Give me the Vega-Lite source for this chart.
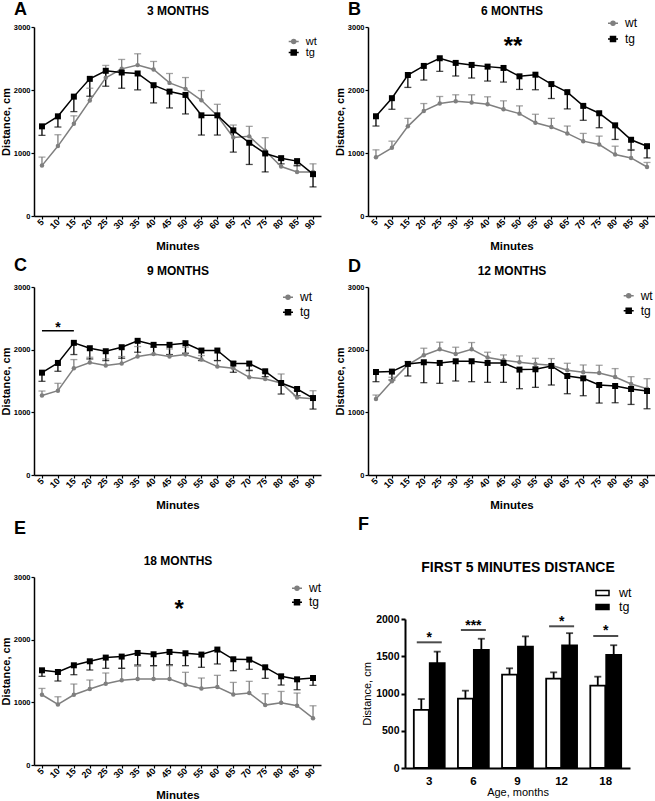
{
"$schema":"https://vega.github.io/schema/vega-lite/v6.json",
"background":"white",
"padding":{"left":0,"top":1,"right":0,"bottom":0},
"columns":2,
"spacing":{"row":71,"column":47},
"bounds":"flush",
"resolve":{"scale":{"color":"independent","fill":"independent"},"legend":{"color":"independent","fill":"independent"}},
"concat":[
{
 "width":287,"height":189,
 "title":{"text":"A","anchor":"start","frame":"group","dx":-20,"offset":-15,"fontSize":18,"fontWeight":"bold"},
 "data":{"name":"cA"},
 "layer":[
  {"encoding":{
    "x":{"field":"m","type":"quantitative","scale":{"domain":[2.5,92.5],"nice":false,"zero":false},"axis":{"domain":true,"values":[5,10,15,20,25,30,35,40,45,50,55,60,65,70,75,80,85,90],"labelAngle":-45,"labelAlign":"right","labelBaseline":"middle","labelFontSize":9,"labelFontWeight":"bold","labelPadding":1,"tickSize":3,"labelOverlap":false,"labelFlush":false,"title":"Minutes","titleFontSize":11.5,"titleFontWeight":"bold","titlePadding":10}},
    "y":{"field":"v","type":"quantitative","scale":{"domain":[0,3000],"nice":false},"axis":{"domain":true,"format":"d","values":[0,1000,2000,3000],"labelFontSize":7.5,"labelFontWeight":"bold","tickSize":3,"labelPadding":1,"title":"Distance, cm","titleFontSize":11,"titleFontWeight":"bold","titlePadding":2}},
    "color":{"field":"g","type":"nominal","scale":{"domain":["wt","tg"],"range":["#7f7f7f","#000000"]},"legend":{"title":null,"orient":"none","legendX":253.7,"legendY":8.5,"labelFontSize":11,"rowPadding":0,"padding":0,"symbolSize":100,"symbolStrokeWidth":1.5,"labelOffset":6,"encode":{"symbols":{"update":{"shape":{"signal":"datum.value === 'wt' ? 'M-1,0L1,0M-0.4,0A0.4,0.4,0,1,1,0.4,0A0.4,0.4,0,1,1,-0.4,0Z' : 'M-1,0L1,0M-0.5,-0.5L0.5,-0.5L0.5,0.5L-0.5,0.5Z'"},"fill":{"signal":"datum.value === 'wt' ? '#7f7f7f' : '#000000'"},"stroke":{"signal":"datum.value === 'wt' ? '#7f7f7f' : '#000000'"},"strokeWidth":{"value":1.5},"opacity":{"value":1}}}}}}},
   "layer":[
    {"mark":{"type":"rule","strokeWidth":1.3},"encoding":{"y2":{"field":"e"}}},
    {"mark":{"type":"tick","orient":"horizontal","size":7,"thickness":1.3},"encoding":{"y":{"field":"e","type":"quantitative","scale":{"domain":[0,3000],"nice":false},"axis":{"domain":true,"format":"d","values":[0,1000,2000,3000],"labelFontSize":7.5,"labelFontWeight":"bold","tickSize":3,"labelPadding":1,"title":"Distance, cm","titleFontSize":11,"titleFontWeight":"bold","titlePadding":2}}}},
    {"mark":{"type":"line","strokeWidth":1.5}},
    {"transform":[{"filter":"datum.g === 'wt'"}],"mark":{"type":"point","filled":true,"shape":"circle","size":20,"opacity":1}}
   ]},
  {"transform":[{"filter":"datum.g === 'tg'"}],"mark":{"type":"point","filled":true,"shape":"square","size":36,"opacity":1},
   "encoding":{
    "x":{"field":"m","type":"quantitative","scale":{"domain":[2.5,92.5],"nice":false,"zero":false},"axis":{"orient":"top","labels":false,"ticks":false,"domain":false,"title":"3 MONTHS","titleFontSize":12,"titleFontWeight":"bold","titlePadding":10}},
    "y":{"field":"v","type":"quantitative","scale":{"domain":[0,3000],"nice":false},"axis":{"domain":true,"format":"d","values":[0,1000,2000,3000],"labelFontSize":7.5,"labelFontWeight":"bold","tickSize":3,"labelPadding":1,"title":"Distance, cm","titleFontSize":11,"titleFontWeight":"bold","titlePadding":2}},
    "color":{"field":"g","type":"nominal","scale":{"domain":["wt","tg"],"range":["#7f7f7f","#000000"]},"legend":{"title":null,"orient":"none","legendX":253.7,"legendY":8.5,"labelFontSize":11,"rowPadding":0,"padding":0,"symbolSize":100,"symbolStrokeWidth":1.5,"labelOffset":6,"encode":{"symbols":{"update":{"shape":{"signal":"datum.value === 'wt' ? 'M-1,0L1,0M-0.4,0A0.4,0.4,0,1,1,0.4,0A0.4,0.4,0,1,1,-0.4,0Z' : 'M-1,0L1,0M-0.5,-0.5L0.5,-0.5L0.5,0.5L-0.5,0.5Z'"},"fill":{"signal":"datum.value === 'wt' ? '#7f7f7f' : '#000000'"},"stroke":{"signal":"datum.value === 'wt' ? '#7f7f7f' : '#000000'"},"strokeWidth":{"value":1.5},"opacity":{"value":1}}}}}}}}
 ],
 "resolve":{"axis":{"x":"independent"}}
},
{
 "width":287,"height":189,
 "title":{"text":"B","anchor":"start","frame":"group","dx":-20,"offset":-15,"fontSize":18,"fontWeight":"bold"},
 "data":{"name":"cB"},
 "layer":[
  {"encoding":{
    "x":{"field":"m","type":"quantitative","scale":{"domain":[2.5,92.5],"nice":false,"zero":false},"axis":{"domain":true,"values":[5,10,15,20,25,30,35,40,45,50,55,60,65,70,75,80,85,90],"labelAngle":-45,"labelAlign":"right","labelBaseline":"middle","labelFontSize":9,"labelFontWeight":"bold","labelPadding":1,"tickSize":3,"labelOverlap":false,"labelFlush":false,"title":"Minutes","titleFontSize":11.5,"titleFontWeight":"bold","titlePadding":10}},
    "y":{"field":"v","type":"quantitative","scale":{"domain":[0,3000],"nice":false},"axis":{"domain":true,"format":"d","values":[0,1000,2000,3000],"labelFontSize":7.5,"labelFontWeight":"bold","tickSize":3,"labelPadding":1,"title":"Distance, cm","titleFontSize":11,"titleFontWeight":"bold","titlePadding":2}},
    "color":{"field":"g","type":"nominal","scale":{"domain":["wt","tg"],"range":["#7f7f7f","#000000"]},"legend":{"title":null,"orient":"none","legendX":239,"legendY":-9.7,"labelFontSize":12,"rowPadding":3.7,"padding":0,"symbolSize":100,"symbolStrokeWidth":1.5,"labelOffset":6,"encode":{"symbols":{"update":{"shape":{"signal":"datum.value === 'wt' ? 'M-1,0L1,0M-0.4,0A0.4,0.4,0,1,1,0.4,0A0.4,0.4,0,1,1,-0.4,0Z' : 'M-1,0L1,0M-0.5,-0.5L0.5,-0.5L0.5,0.5L-0.5,0.5Z'"},"fill":{"signal":"datum.value === 'wt' ? '#7f7f7f' : '#000000'"},"stroke":{"signal":"datum.value === 'wt' ? '#7f7f7f' : '#000000'"},"strokeWidth":{"value":1.5},"opacity":{"value":1}}}}}}},
   "layer":[
    {"mark":{"type":"rule","strokeWidth":1.3},"encoding":{"y2":{"field":"e"}}},
    {"mark":{"type":"tick","orient":"horizontal","size":7,"thickness":1.3},"encoding":{"y":{"field":"e","type":"quantitative","scale":{"domain":[0,3000],"nice":false},"axis":{"domain":true,"format":"d","values":[0,1000,2000,3000],"labelFontSize":7.5,"labelFontWeight":"bold","tickSize":3,"labelPadding":1,"title":"Distance, cm","titleFontSize":11,"titleFontWeight":"bold","titlePadding":2}}}},
    {"mark":{"type":"line","strokeWidth":1.5}},
    {"transform":[{"filter":"datum.g === 'wt'"}],"mark":{"type":"point","filled":true,"shape":"circle","size":20,"opacity":1}},
    {"data":{"values":[{"m":48,"v":2780,"t":"**"}]},"mark":{"type":"text","fontSize":24,"fontWeight":"bold","baseline":"middle","dy":6.5},"encoding":{"text":{"field":"t"},"color":{"value":"#000000"}}}
   ]},
  {"transform":[{"filter":"datum.g === 'tg'"}],"mark":{"type":"point","filled":true,"shape":"square","size":36,"opacity":1},
   "encoding":{
    "x":{"field":"m","type":"quantitative","scale":{"domain":[2.5,92.5],"nice":false,"zero":false},"axis":{"orient":"top","labels":false,"ticks":false,"domain":false,"title":"6 MONTHS","titleFontSize":12,"titleFontWeight":"bold","titlePadding":10}},
    "y":{"field":"v","type":"quantitative","scale":{"domain":[0,3000],"nice":false},"axis":{"domain":true,"format":"d","values":[0,1000,2000,3000],"labelFontSize":7.5,"labelFontWeight":"bold","tickSize":3,"labelPadding":1,"title":"Distance, cm","titleFontSize":11,"titleFontWeight":"bold","titlePadding":2}},
    "color":{"field":"g","type":"nominal","scale":{"domain":["wt","tg"],"range":["#7f7f7f","#000000"]},"legend":{"title":null,"orient":"none","legendX":239,"legendY":-9.7,"labelFontSize":12,"rowPadding":3.7,"padding":0,"symbolSize":100,"symbolStrokeWidth":1.5,"labelOffset":6,"encode":{"symbols":{"update":{"shape":{"signal":"datum.value === 'wt' ? 'M-1,0L1,0M-0.4,0A0.4,0.4,0,1,1,0.4,0A0.4,0.4,0,1,1,-0.4,0Z' : 'M-1,0L1,0M-0.5,-0.5L0.5,-0.5L0.5,0.5L-0.5,0.5Z'"},"fill":{"signal":"datum.value === 'wt' ? '#7f7f7f' : '#000000'"},"stroke":{"signal":"datum.value === 'wt' ? '#7f7f7f' : '#000000'"},"strokeWidth":{"value":1.5},"opacity":{"value":1}}}}}}}}
 ],
 "resolve":{"axis":{"x":"independent"}}
},
{
 "width":287,"height":188,
 "title":{"text":"C","anchor":"start","frame":"group","dx":-20,"offset":-11,"fontSize":18,"fontWeight":"bold"},
 "data":{"name":"cC"},
 "layer":[
  {"encoding":{
    "x":{"field":"m","type":"quantitative","scale":{"domain":[2.5,92.5],"nice":false,"zero":false},"axis":{"domain":true,"values":[5,10,15,20,25,30,35,40,45,50,55,60,65,70,75,80,85,90],"labelAngle":-45,"labelAlign":"right","labelBaseline":"middle","labelFontSize":9,"labelFontWeight":"bold","labelPadding":1,"tickSize":3,"labelOverlap":false,"labelFlush":false,"title":"Minutes","titleFontSize":11.5,"titleFontWeight":"bold","titlePadding":10}},
    "y":{"field":"v","type":"quantitative","scale":{"domain":[0,3000],"nice":false},"axis":{"domain":true,"format":"d","values":[0,1000,2000,3000],"labelFontSize":7.5,"labelFontWeight":"bold","tickSize":3,"labelPadding":1,"title":"Distance, cm","titleFontSize":11,"titleFontWeight":"bold","titlePadding":2}},
    "color":{"field":"g","type":"nominal","scale":{"domain":["wt","tg"],"range":["#7f7f7f","#000000"]},"legend":{"title":null,"orient":"none","legendX":248,"legendY":4.3,"labelFontSize":12,"rowPadding":3,"padding":0,"symbolSize":100,"symbolStrokeWidth":1.5,"labelOffset":6,"encode":{"symbols":{"update":{"shape":{"signal":"datum.value === 'wt' ? 'M-1,0L1,0M-0.4,0A0.4,0.4,0,1,1,0.4,0A0.4,0.4,0,1,1,-0.4,0Z' : 'M-1,0L1,0M-0.5,-0.5L0.5,-0.5L0.5,0.5L-0.5,0.5Z'"},"fill":{"signal":"datum.value === 'wt' ? '#7f7f7f' : '#000000'"},"stroke":{"signal":"datum.value === 'wt' ? '#7f7f7f' : '#000000'"},"strokeWidth":{"value":1.5},"opacity":{"value":1}}}}}}},
   "layer":[
    {"mark":{"type":"rule","strokeWidth":1.3},"encoding":{"y2":{"field":"e"}}},
    {"mark":{"type":"tick","orient":"horizontal","size":7,"thickness":1.3},"encoding":{"y":{"field":"e","type":"quantitative","scale":{"domain":[0,3000],"nice":false},"axis":{"domain":true,"format":"d","values":[0,1000,2000,3000],"labelFontSize":7.5,"labelFontWeight":"bold","tickSize":3,"labelPadding":1,"title":"Distance, cm","titleFontSize":11,"titleFontWeight":"bold","titlePadding":2}}}},
    {"mark":{"type":"line","strokeWidth":1.5}},
    {"transform":[{"filter":"datum.g === 'wt'"}],"mark":{"type":"point","filled":true,"shape":"circle","size":20,"opacity":1}},
    {"data":{"values":[{"m":5,"m2":15,"v":2303}]},"mark":{"type":"rule","strokeWidth":1.5},"encoding":{"x2":{"field":"m2"},"color":{"value":"#000000"}}},
    {"data":{"values":[{"m":10,"v":2303,"t":"*"}]},"mark":{"type":"text","fontSize":14,"fontWeight":"bold","baseline":"middle","dy":-3},"encoding":{"text":{"field":"t"},"color":{"value":"#000000"}}}
   ]},
  {"transform":[{"filter":"datum.g === 'tg'"}],"mark":{"type":"point","filled":true,"shape":"square","size":36,"opacity":1},
   "encoding":{
    "x":{"field":"m","type":"quantitative","scale":{"domain":[2.5,92.5],"nice":false,"zero":false},"axis":{"orient":"top","labels":false,"ticks":false,"domain":false,"title":"9 MONTHS","titleFontSize":12,"titleFontWeight":"bold","titlePadding":10}},
    "y":{"field":"v","type":"quantitative","scale":{"domain":[0,3000],"nice":false},"axis":{"domain":true,"format":"d","values":[0,1000,2000,3000],"labelFontSize":7.5,"labelFontWeight":"bold","tickSize":3,"labelPadding":1,"title":"Distance, cm","titleFontSize":11,"titleFontWeight":"bold","titlePadding":2}},
    "color":{"field":"g","type":"nominal","scale":{"domain":["wt","tg"],"range":["#7f7f7f","#000000"]},"legend":{"title":null,"orient":"none","legendX":248,"legendY":4.3,"labelFontSize":12,"rowPadding":3,"padding":0,"symbolSize":100,"symbolStrokeWidth":1.5,"labelOffset":6,"encode":{"symbols":{"update":{"shape":{"signal":"datum.value === 'wt' ? 'M-1,0L1,0M-0.4,0A0.4,0.4,0,1,1,0.4,0A0.4,0.4,0,1,1,-0.4,0Z' : 'M-1,0L1,0M-0.5,-0.5L0.5,-0.5L0.5,0.5L-0.5,0.5Z'"},"fill":{"signal":"datum.value === 'wt' ? '#7f7f7f' : '#000000'"},"stroke":{"signal":"datum.value === 'wt' ? '#7f7f7f' : '#000000'"},"strokeWidth":{"value":1.5},"opacity":{"value":1}}}}}}}}
 ],
 "resolve":{"axis":{"x":"independent"}}
},
{
 "width":287,"height":188,
 "title":{"text":"D","anchor":"start","frame":"group","dx":-20,"offset":-12,"fontSize":18,"fontWeight":"bold"},
 "data":{"name":"cD"},
 "layer":[
  {"encoding":{
    "x":{"field":"m","type":"quantitative","scale":{"domain":[2.5,92.5],"nice":false,"zero":false},"axis":{"domain":true,"values":[5,10,15,20,25,30,35,40,45,50,55,60,65,70,75,80,85,90],"labelAngle":-45,"labelAlign":"right","labelBaseline":"middle","labelFontSize":9,"labelFontWeight":"bold","labelPadding":1,"tickSize":3,"labelOverlap":false,"labelFlush":false,"title":"Minutes","titleFontSize":11.5,"titleFontWeight":"bold","titlePadding":10}},
    "y":{"field":"v","type":"quantitative","scale":{"domain":[0,3000],"nice":false},"axis":{"domain":true,"format":"d","values":[0,1000,2000,3000],"labelFontSize":7.5,"labelFontWeight":"bold","tickSize":3,"labelPadding":1,"title":"Distance, cm","titleFontSize":11,"titleFontWeight":"bold","titlePadding":2}},
    "color":{"field":"g","type":"nominal","scale":{"domain":["wt","tg"],"range":["#7f7f7f","#000000"]},"legend":{"title":null,"orient":"none","legendX":254.7,"legendY":2.7,"labelFontSize":12,"rowPadding":3,"padding":0,"symbolSize":100,"symbolStrokeWidth":1.5,"labelOffset":6,"encode":{"symbols":{"update":{"shape":{"signal":"datum.value === 'wt' ? 'M-1,0L1,0M-0.4,0A0.4,0.4,0,1,1,0.4,0A0.4,0.4,0,1,1,-0.4,0Z' : 'M-1,0L1,0M-0.5,-0.5L0.5,-0.5L0.5,0.5L-0.5,0.5Z'"},"fill":{"signal":"datum.value === 'wt' ? '#7f7f7f' : '#000000'"},"stroke":{"signal":"datum.value === 'wt' ? '#7f7f7f' : '#000000'"},"strokeWidth":{"value":1.5},"opacity":{"value":1}}}}}}},
   "layer":[
    {"mark":{"type":"rule","strokeWidth":1.3},"encoding":{"y2":{"field":"e"}}},
    {"mark":{"type":"tick","orient":"horizontal","size":7,"thickness":1.3},"encoding":{"y":{"field":"e","type":"quantitative","scale":{"domain":[0,3000],"nice":false},"axis":{"domain":true,"format":"d","values":[0,1000,2000,3000],"labelFontSize":7.5,"labelFontWeight":"bold","tickSize":3,"labelPadding":1,"title":"Distance, cm","titleFontSize":11,"titleFontWeight":"bold","titlePadding":2}}}},
    {"mark":{"type":"line","strokeWidth":1.5}},
    {"transform":[{"filter":"datum.g === 'wt'"}],"mark":{"type":"point","filled":true,"shape":"circle","size":20,"opacity":1}}
   ]},
  {"transform":[{"filter":"datum.g === 'tg'"}],"mark":{"type":"point","filled":true,"shape":"square","size":36,"opacity":1},
   "encoding":{
    "x":{"field":"m","type":"quantitative","scale":{"domain":[2.5,92.5],"nice":false,"zero":false},"axis":{"orient":"top","labels":false,"ticks":false,"domain":false,"title":"12 MONTHS","titleFontSize":12,"titleFontWeight":"bold","titlePadding":10}},
    "y":{"field":"v","type":"quantitative","scale":{"domain":[0,3000],"nice":false},"axis":{"domain":true,"format":"d","values":[0,1000,2000,3000],"labelFontSize":7.5,"labelFontWeight":"bold","tickSize":3,"labelPadding":1,"title":"Distance, cm","titleFontSize":11,"titleFontWeight":"bold","titlePadding":2}},
    "color":{"field":"g","type":"nominal","scale":{"domain":["wt","tg"],"range":["#7f7f7f","#000000"]},"legend":{"title":null,"orient":"none","legendX":254.7,"legendY":2.7,"labelFontSize":12,"rowPadding":3,"padding":0,"symbolSize":100,"symbolStrokeWidth":1.5,"labelOffset":6,"encode":{"symbols":{"update":{"shape":{"signal":"datum.value === 'wt' ? 'M-1,0L1,0M-0.4,0A0.4,0.4,0,1,1,0.4,0A0.4,0.4,0,1,1,-0.4,0Z' : 'M-1,0L1,0M-0.5,-0.5L0.5,-0.5L0.5,0.5L-0.5,0.5Z'"},"fill":{"signal":"datum.value === 'wt' ? '#7f7f7f' : '#000000'"},"stroke":{"signal":"datum.value === 'wt' ? '#7f7f7f' : '#000000'"},"strokeWidth":{"value":1.5},"opacity":{"value":1}}}}}}}}
 ],
 "resolve":{"axis":{"x":"independent"}}
},
{
 "width":287,"height":219,
 "title":{"text":"E","anchor":"start","frame":"group","dx":-20,"offset":8,"fontSize":18,"fontWeight":"bold"},
 "data":{"name":"cE"},
 "layer":[
  {"encoding":{
    "x":{"field":"m","type":"quantitative","scale":{"domain":[2.5,92.5],"nice":false,"zero":false},"axis":{"domain":true,"values":[5,10,15,20,25,30,35,40,45,50,55,60,65,70,75,80,85,90],"labelAngle":-45,"labelAlign":"right","labelBaseline":"middle","labelFontSize":9,"labelFontWeight":"bold","labelPadding":1,"tickSize":3,"labelOverlap":false,"labelFlush":false,"title":"Minutes","titleFontSize":11.5,"titleFontWeight":"bold","titlePadding":10}},
    "y":{"field":"v","type":"quantitative","scale":{"domain":[0,3000],"nice":false,"range":[219,31]},"axis":{"domain":true,"format":"d","values":[0,1000,2000,3000],"labelFontSize":7.5,"labelFontWeight":"bold","tickSize":3,"labelPadding":1,"title":"Distance, cm","titleFontSize":11,"titleFontWeight":"bold","titlePadding":2}},
    "color":{"field":"g","type":"nominal","scale":{"domain":["wt","tg"],"range":["#7f7f7f","#000000"]},"legend":{"title":null,"orient":"none","legendX":257,"legendY":36.3,"labelFontSize":12,"rowPadding":2,"padding":0,"symbolSize":100,"symbolStrokeWidth":1.5,"labelOffset":6,"encode":{"symbols":{"update":{"shape":{"signal":"datum.value === 'wt' ? 'M-1,0L1,0M-0.4,0A0.4,0.4,0,1,1,0.4,0A0.4,0.4,0,1,1,-0.4,0Z' : 'M-1,0L1,0M-0.5,-0.5L0.5,-0.5L0.5,0.5L-0.5,0.5Z'"},"fill":{"signal":"datum.value === 'wt' ? '#7f7f7f' : '#000000'"},"stroke":{"signal":"datum.value === 'wt' ? '#7f7f7f' : '#000000'"},"strokeWidth":{"value":1.5},"opacity":{"value":1}}}}}}},
   "layer":[
    {"mark":{"type":"rule","strokeWidth":1.3},"encoding":{"y2":{"field":"e"}}},
    {"mark":{"type":"tick","orient":"horizontal","size":7,"thickness":1.3},"encoding":{"y":{"field":"e","type":"quantitative","scale":{"domain":[0,3000],"nice":false,"range":[219,31]},"axis":{"domain":true,"format":"d","values":[0,1000,2000,3000],"labelFontSize":7.5,"labelFontWeight":"bold","tickSize":3,"labelPadding":1,"title":"Distance, cm","titleFontSize":11,"titleFontWeight":"bold","titlePadding":2}}}},
    {"mark":{"type":"line","strokeWidth":1.5}},
    {"transform":[{"filter":"datum.g === 'wt'"}],"mark":{"type":"point","filled":true,"shape":"circle","size":20,"opacity":1}},
    {"data":{"values":[{"m":48,"v":2585,"t":"*"}]},"mark":{"type":"text","fontSize":24,"fontWeight":"bold","baseline":"middle","dy":6.5},"encoding":{"text":{"field":"t"},"color":{"value":"#000000"}}}
   ]},
  {"transform":[{"filter":"datum.g === 'tg'"}],"mark":{"type":"point","filled":true,"shape":"square","size":36,"opacity":1},
   "encoding":{
    "x":{"field":"m","type":"quantitative","scale":{"domain":[2.5,92.5],"nice":false,"zero":false},"axis":{"orient":"top","offset":-31,"labels":false,"ticks":false,"domain":false,"title":"18 MONTHS","titleFontSize":12,"titleFontWeight":"bold","titlePadding":10}},
    "y":{"field":"v","type":"quantitative","scale":{"domain":[0,3000],"nice":false,"range":[219,31]},"axis":{"domain":true,"format":"d","values":[0,1000,2000,3000],"labelFontSize":7.5,"labelFontWeight":"bold","tickSize":3,"labelPadding":1,"title":"Distance, cm","titleFontSize":11,"titleFontWeight":"bold","titlePadding":2}},
    "color":{"field":"g","type":"nominal","scale":{"domain":["wt","tg"],"range":["#7f7f7f","#000000"]},"legend":{"title":null,"orient":"none","legendX":257,"legendY":36.3,"labelFontSize":12,"rowPadding":2,"padding":0,"symbolSize":100,"symbolStrokeWidth":1.5,"labelOffset":6,"encode":{"symbols":{"update":{"shape":{"signal":"datum.value === 'wt' ? 'M-1,0L1,0M-0.4,0A0.4,0.4,0,1,1,0.4,0A0.4,0.4,0,1,1,-0.4,0Z' : 'M-1,0L1,0M-0.5,-0.5L0.5,-0.5L0.5,0.5L-0.5,0.5Z'"},"fill":{"signal":"datum.value === 'wt' ? '#7f7f7f' : '#000000'"},"stroke":{"signal":"datum.value === 'wt' ? '#7f7f7f' : '#000000'"},"strokeWidth":{"value":1.5},"opacity":{"value":1}}}}}}}}
 ],
 "resolve":{"axis":{"x":"independent"}}
},
{
 "width":262,"height":222,
 "title":{"text":"F","anchor":"start","frame":"group","dx":-10,"offset":12,"fontSize":18,"fontWeight":"bold"},
 "data":{"name":"bars"},
 "layer":[
  {"encoding":{
    "x":{"field":"age","type":"ordinal","scale":{"range":[37,262],"paddingInner":0.3,"paddingOuter":0.2},"axis":{"domain":true,"labelAngle":0,"labelFontSize":11.5,"labelFontWeight":"bold","ticks":false,"labelPadding":7,"domainWidth":2,"title":"Age, months","titleFontSize":11,"titleFontWeight":"normal","titlePadding":0}},
    "y":{"field":"v","type":"quantitative","scale":{"domain":[0,2000],"nice":false,"range":[222,73]},"axis":{"domain":true,"format":"d","values":[0,500,1000,1500,2000],"offset":-37,"labelFontSize":10.5,"labelFontWeight":"bold","tickSize":4,"tickWidth":2,"domainWidth":2,"labelPadding":2,"title":"Distance, cm","titleFontSize":11,"titleFontWeight":"normal","titlePadding":3}}},
   "layer":[
    {"mark":{"type":"bar","stroke":"#000000","strokeWidth":1.8},"encoding":{
      "xOffset":{"field":"g","type":"nominal","scale":{"domain":["wt","tg"],"paddingInner":0.06}},
      "fill":{"field":"g","type":"nominal","scale":{"domain":["wt","tg"],"range":["#ffffff","#000000"]},"legend":{"title":null,"orient":"none","legendX":227,"legendY":39.5,"labelFontSize":12.5,"rowPadding":0,"padding":0,"symbolType":"M-1,-0.4L1,-0.4L1,0.4L-1,0.4Z","symbolSize":169,"symbolStrokeColor":"#000000","symbolStrokeWidth":1.5,"labelOffset":9}}}},
    {"mark":{"type":"rule","strokeWidth":1.8,"color":"#000000"},"encoding":{
      "xOffset":{"field":"g","type":"nominal","scale":{"domain":["wt","tg"],"paddingInner":0.06}},
      "y2":{"field":"e"}}},
    {"mark":{"type":"tick","orient":"horizontal","size":7,"thickness":1.8,"color":"#000000"},"encoding":{
      "xOffset":{"field":"g","type":"nominal","scale":{"domain":["wt","tg"],"paddingInner":0.06}},
      "y":{"field":"e","type":"quantitative","scale":{"domain":[0,2000],"nice":false,"range":[222,73]},"axis":{"domain":true,"format":"d","values":[0,500,1000,1500,2000],"offset":-37,"labelFontSize":10.5,"labelFontWeight":"bold","tickSize":4,"tickWidth":2,"domainWidth":2,"labelPadding":2,"title":"Distance, cm","titleFontSize":11,"titleFontWeight":"normal","titlePadding":3}}}},
    {"data":{"name":"sig"},"mark":{"type":"text","fontSize":14,"fontWeight":"bold","baseline":"middle","dy":-4.5,"color":"#000000"},"encoding":{
      "y":{"field":"s","type":"quantitative","scale":{"domain":[0,2000],"nice":false,"range":[222,73]},"axis":{"domain":true,"format":"d","values":[0,500,1000,1500,2000],"offset":-37,"labelFontSize":10.5,"labelFontWeight":"bold","tickSize":4,"tickWidth":2,"domainWidth":2,"labelPadding":2,"title":"Distance, cm","titleFontSize":11,"titleFontWeight":"normal","titlePadding":3}},
      "text":{"field":"t"}}}
   ]},
  {"data":{"name":"sig"},"mark":{"type":"tick","orient":"horizontal","size":25,"thickness":2,"color":"#000000"},"encoding":{
    "x":{"field":"age","type":"ordinal","scale":{"range":[37,262],"paddingInner":0.3,"paddingOuter":0.2},"axis":{"orient":"top","offset":-28,"labels":false,"ticks":false,"domain":false,"title":"FIRST 5 MINUTES DISTANCE","titleFontSize":14,"titleFontWeight":"bold","titlePadding":0}},
    "y":{"field":"s","type":"quantitative","scale":{"domain":[0,2000],"nice":false,"range":[222,73]},"axis":{"domain":true,"format":"d","values":[0,500,1000,1500,2000],"offset":-37,"labelFontSize":10.5,"labelFontWeight":"bold","tickSize":4,"tickWidth":2,"domainWidth":2,"labelPadding":2,"title":"Distance, cm","titleFontSize":11,"titleFontWeight":"normal","titlePadding":3}}}}
 ],
 "resolve":{"axis":{"x":"independent"}}
}
],
"datasets":{
 "cA":[
  {"m":5,"g":"wt","v":800,"e":935},{"m":10,"g":"wt","v":1110,"e":1290},{"m":15,"g":"wt","v":1465,"e":1590},{"m":20,"g":"wt","v":1832,"e":2028},{"m":25,"g":"wt","v":2193,"e":2390},{"m":30,"g":"wt","v":2336,"e":2485},{"m":35,"g":"wt","v":2395,"e":2575},{"m":40,"g":"wt","v":2325,"e":2453},{"m":45,"g":"wt","v":2113,"e":2262},{"m":50,"g":"wt","v":2018,"e":2198},{"m":55,"g":"wt","v":1837,"e":1991},{"m":60,"g":"wt","v":1590,"e":1773},{"m":65,"g":"wt","v":1248,"e":1444},{"m":70,"g":"wt","v":1264,"e":1423},{"m":75,"g":"wt","v":1035,"e":1243},{"m":80,"g":"wt","v":786,"e":890},{"m":85,"g":"wt","v":700,"e":807},{"m":90,"g":"wt","v":700,"e":828},
  {"m":5,"g":"tg","v":1423,"e":1280},{"m":10,"g":"tg","v":1582,"e":1412},{"m":15,"g":"tg","v":1895,"e":1657},{"m":20,"g":"tg","v":2177,"e":1901},{"m":25,"g":"tg","v":2305,"e":2060},{"m":30,"g":"tg","v":2278,"e":2028},{"m":35,"g":"tg","v":2262,"e":2002},{"m":40,"g":"tg","v":2076,"e":1795},{"m":45,"g":"tg","v":1975,"e":1715},{"m":50,"g":"tg","v":1922,"e":1620},{"m":55,"g":"tg","v":1598,"e":1285},{"m":60,"g":"tg","v":1598,"e":1285},{"m":65,"g":"tg","v":1359,"e":1014},{"m":70,"g":"tg","v":1163,"e":818},{"m":75,"g":"tg","v":993,"e":700},{"m":80,"g":"tg","v":918,"e":828},{"m":85,"g":"tg","v":871,"e":797},{"m":90,"g":"tg","v":664,"e":462}
 ],
 "cB":[
  {"m":5,"g":"wt","v":932,"e":1050},{"m":10,"g":"wt","v":1082,"e":1188},{"m":15,"g":"wt","v":1423,"e":1550},{"m":20,"g":"wt","v":1668,"e":1785},{"m":25,"g":"wt","v":1785,"e":1897},{"m":30,"g":"wt","v":1822,"e":1924},{"m":35,"g":"wt","v":1801,"e":1924},{"m":40,"g":"wt","v":1774,"e":1892},{"m":45,"g":"wt","v":1694,"e":1828},{"m":50,"g":"wt","v":1625,"e":1748},{"m":55,"g":"wt","v":1481,"e":1615},{"m":60,"g":"wt","v":1412,"e":1550},{"m":65,"g":"wt","v":1311,"e":1428},{"m":70,"g":"wt","v":1188,"e":1311},{"m":75,"g":"wt","v":1135,"e":1268},{"m":80,"g":"wt","v":975,"e":1108},{"m":85,"g":"wt","v":922,"e":1055},{"m":90,"g":"wt","v":778,"e":850},
  {"m":5,"g":"tg","v":1583,"e":1428},{"m":10,"g":"tg","v":1870,"e":1694},{"m":15,"g":"tg","v":2238,"e":2041},{"m":20,"g":"tg","v":2382,"e":2158},{"m":25,"g":"tg","v":2504,"e":2296},{"m":30,"g":"tg","v":2430,"e":2222},{"m":35,"g":"tg","v":2398,"e":2190},{"m":40,"g":"tg","v":2371,"e":2142},{"m":45,"g":"tg","v":2350,"e":2126},{"m":50,"g":"tg","v":2217,"e":2009},{"m":55,"g":"tg","v":2243,"e":2004},{"m":60,"g":"tg","v":2094,"e":1865},{"m":65,"g":"tg","v":1966,"e":1700},{"m":70,"g":"tg","v":1748,"e":1519},{"m":75,"g":"tg","v":1631,"e":1401},{"m":80,"g":"tg","v":1439,"e":1215},{"m":85,"g":"tg","v":1210,"e":1045},{"m":90,"g":"tg","v":1108,"e":922}
 ],
 "cC":[
  {"m":5,"g":"wt","v":1270,"e":1340},{"m":10,"g":"wt","v":1345,"e":1463},{"m":15,"g":"wt","v":1703,"e":1842},{"m":20,"g":"wt","v":1794,"e":1879},{"m":25,"g":"wt","v":1746,"e":1852},{"m":30,"g":"wt","v":1778,"e":1890},{"m":35,"g":"wt","v":1890,"e":2050},{"m":40,"g":"wt","v":1932,"e":2039},{"m":45,"g":"wt","v":1890,"e":2012},{"m":50,"g":"wt","v":1922,"e":2039},{"m":55,"g":"wt","v":1842,"e":1906},{"m":60,"g":"wt","v":1730,"e":1826},{"m":65,"g":"wt","v":1703,"e":1810},{"m":70,"g":"wt","v":1559,"e":1676},{"m":75,"g":"wt","v":1532,"e":1639},{"m":80,"g":"wt","v":1468,"e":1612},{"m":85,"g":"wt","v":1238,"e":1345},{"m":90,"g":"wt","v":1217,"e":1345},
  {"m":5,"g":"tg","v":1633,"e":1495},{"m":10,"g":"tg","v":1788,"e":1655},{"m":15,"g":"tg","v":2109,"e":1922},{"m":20,"g":"tg","v":2023,"e":1852},{"m":25,"g":"tg","v":1975,"e":1826},{"m":30,"g":"tg","v":2039,"e":1863},{"m":35,"g":"tg","v":2141,"e":1959},{"m":40,"g":"tg","v":2077,"e":1922},{"m":45,"g":"tg","v":2077,"e":1922},{"m":50,"g":"tg","v":2103,"e":1943},{"m":55,"g":"tg","v":1986,"e":1826},{"m":60,"g":"tg","v":1986,"e":1826},{"m":65,"g":"tg","v":1778,"e":1639},{"m":70,"g":"tg","v":1778,"e":1666},{"m":75,"g":"tg","v":1655,"e":1569},{"m":80,"g":"tg","v":1468,"e":1292},{"m":85,"g":"tg","v":1372,"e":1265},{"m":90,"g":"tg","v":1228,"e":1052}
 ],
 "cD":[
  {"m":5,"g":"wt","v":1212,"e":1276},{"m":10,"g":"wt","v":1495,"e":1560},{"m":15,"g":"wt","v":1756,"e":1810},{"m":20,"g":"wt","v":1911,"e":2023},{"m":25,"g":"wt","v":2007,"e":2119},{"m":30,"g":"wt","v":1932,"e":2039},{"m":35,"g":"wt","v":2007,"e":2114},{"m":40,"g":"wt","v":1874,"e":1959},{"m":45,"g":"wt","v":1831,"e":1916},{"m":50,"g":"wt","v":1799,"e":1900},{"m":55,"g":"wt","v":1772,"e":1863},{"m":60,"g":"wt","v":1751,"e":1858},{"m":65,"g":"wt","v":1671,"e":1783},{"m":70,"g":"wt","v":1639,"e":1756},{"m":75,"g":"wt","v":1628,"e":1751},{"m":80,"g":"wt","v":1564,"e":1698},{"m":85,"g":"wt","v":1452,"e":1569},{"m":90,"g":"wt","v":1377,"e":1537},
  {"m":5,"g":"tg","v":1644,"e":1489},{"m":10,"g":"tg","v":1650,"e":1516},{"m":15,"g":"tg","v":1772,"e":1580},{"m":20,"g":"tg","v":1799,"e":1473},{"m":25,"g":"tg","v":1788,"e":1463},{"m":30,"g":"tg","v":1815,"e":1500},{"m":35,"g":"tg","v":1815,"e":1489},{"m":40,"g":"tg","v":1788,"e":1479},{"m":45,"g":"tg","v":1788,"e":1479},{"m":50,"g":"tg","v":1682,"e":1377},{"m":55,"g":"tg","v":1687,"e":1399},{"m":60,"g":"tg","v":1740,"e":1436},{"m":65,"g":"tg","v":1580,"e":1297},{"m":70,"g":"tg","v":1543,"e":1265},{"m":75,"g":"tg","v":1436,"e":1148},{"m":80,"g":"tg","v":1420,"e":1153},{"m":85,"g":"tg","v":1372,"e":1126},{"m":90,"g":"tg","v":1340,"e":1057}
 ],
 "cE":[
  {"m":5,"g":"wt","v":1121,"e":1222},{"m":10,"g":"wt","v":966,"e":1089},{"m":15,"g":"wt","v":1121,"e":1292},{"m":20,"g":"wt","v":1212,"e":1356},{"m":25,"g":"wt","v":1297,"e":1468},{"m":30,"g":"wt","v":1351,"e":1543},{"m":35,"g":"wt","v":1372,"e":1575},{"m":40,"g":"wt","v":1372,"e":1585},{"m":45,"g":"wt","v":1372,"e":1585},{"m":50,"g":"wt","v":1281,"e":1479},{"m":55,"g":"wt","v":1222,"e":1388},{"m":60,"g":"wt","v":1244,"e":1431},{"m":65,"g":"wt","v":1126,"e":1318},{"m":70,"g":"wt","v":1148,"e":1335},{"m":75,"g":"wt","v":956,"e":1137},{"m":80,"g":"wt","v":993,"e":1174},{"m":85,"g":"wt","v":945,"e":1148},{"m":90,"g":"wt","v":747,"e":945},
  {"m":5,"g":"tg","v":1511,"e":1415},{"m":10,"g":"tg","v":1484,"e":1340},{"m":15,"g":"tg","v":1591,"e":1441},{"m":20,"g":"tg","v":1655,"e":1516},{"m":25,"g":"tg","v":1714,"e":1543},{"m":30,"g":"tg","v":1730,"e":1543},{"m":35,"g":"tg","v":1788,"e":1596},{"m":40,"g":"tg","v":1767,"e":1585},{"m":45,"g":"tg","v":1804,"e":1601},{"m":50,"g":"tg","v":1783,"e":1585},{"m":55,"g":"tg","v":1762,"e":1559},{"m":60,"g":"tg","v":1842,"e":1612},{"m":65,"g":"tg","v":1687,"e":1505},{"m":70,"g":"tg","v":1682,"e":1527},{"m":75,"g":"tg","v":1559,"e":1383},{"m":80,"g":"tg","v":1415,"e":1276},{"m":85,"g":"tg","v":1367,"e":1201},{"m":90,"g":"tg","v":1388,"e":1271}
 ],
 "bars":[
  {"age":3,"g":"wt","v":780,"e":926},{"age":3,"g":"tg","v":1409,"e":1562},
  {"age":6,"g":"wt","v":930,"e":1038},{"age":6,"g":"tg","v":1584,"e":1735},
  {"age":9,"g":"wt","v":1253,"e":1338},{"age":9,"g":"tg","v":1629,"e":1767},
  {"age":12,"g":"wt","v":1199,"e":1284},{"age":12,"g":"tg","v":1645,"e":1810},
  {"age":18,"g":"wt","v":1105,"e":1226},{"age":18,"g":"tg","v":1517,"e":1648}
 ],
 "sig":[
  {"age":3,"s":1687,"t":"*"},{"age":6,"s":1852,"t":"***"},{"age":12,"s":1902,"t":"*"},{"age":18,"s":1772,"t":"*"}
 ]
},
"config":{
 "font":"Liberation Sans",
 "view":{"stroke":null},
 "axis":{"grid":false,"domainColor":"#000000","domainWidth":1.5,"tickColor":"#000000","tickWidth":1.2,"labelColor":"#000000","titleColor":"#000000"},
 "title":{"color":"#000000"},
 "legend":{"labelColor":"#000000"}
}
}
